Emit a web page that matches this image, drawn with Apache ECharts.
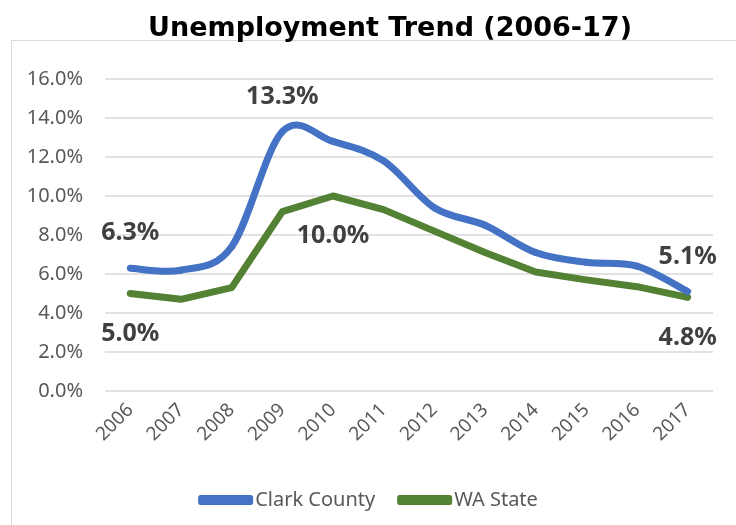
<!DOCTYPE html>
<html>
<head>
<meta charset="utf-8">
<script src="https://cdn.jsdelivr.net/npm/echarts@6/dist/echarts.min.js"></script>
<style>
  html, body { margin: 0; padding: 0; background: #ffffff; }
  #main { width: 736px; height: 525px; }
</style>
</head>
<body>
<div id="main"></div>
<script>
// data
const years = ['2006', '2007', '2008', '2009', '2010', '2011', '2012', '2013', '2014', '2015', '2016', '2017']
const clarkCounty = [6.3, 6.2, 7.4, 13.3, 12.8, 11.8, 9.4, 8.5, 7.1, 6.6, 6.4, 5.1]
const waState = [5.0, 4.7, 5.3, 9.2, 10.0, 9.3, 8.2, 7.1, 6.1, 5.7, 5.35, 4.8]
const yTicks = [0, 2, 4, 6, 8, 10, 12, 14, 16]

// which points get a data label
const clarkLabelIdx = [0, 3, 11]
const waLabelIdx = [0, 4, 11]

const BLUE = '#4472c4'
const GREEN = '#548235'
const FONT = 'Noto Sans'

const labelStyle = {
  show: true,
  fontFamily: FONT,
  fontWeight: 'bold',
  fontSize: 25,
  color: '#404040',
  formatter: (p) => p.value.toFixed(1) + '%'
}

const withLabels = (values, idx, position, distance) =>
  values.map((v, i) =>
    idx.includes(i)
      ? { value: v, label: Object.assign({}, labelStyle, { position: position, distance: distance }) }
      : v
  )

// spreadsheet-style smoothed segment (catmull-rom as bezier), one per data item
const renderSmooth = (values, color) => (params, api) => {
  const i = params.dataIndex
  if (i >= values.length - 1) return null
  const p = (k) => {
    const kk = Math.max(0, Math.min(values.length - 1, k))
    return api.coord([kk, values[kk]])
  }
  const p0 = p(i - 1), p1 = p(i), p2 = p(i + 1), p3 = p(i + 2)
  const t = 1 / 6
  return {
    type: 'bezierCurve',
    shape: {
      x1: p1[0], y1: p1[1],
      x2: p2[0], y2: p2[1],
      cpx1: p1[0] + (p2[0] - p0[0]) * t,
      cpy1: p1[1] + (p2[1] - p0[1]) * t,
      cpx2: p2[0] - (p3[0] - p1[0]) * t,
      cpy2: p2[1] - (p3[1] - p1[1]) * t
    },
    style: { stroke: color, lineWidth: 7, fill: null, lineCap: 'round', lineJoin: 'round' }
  }
}

const chart = echarts.init(document.getElementById('main'))

const option = {
  animation: false,
  backgroundColor: '#ffffff',
  title: {
    text: 'Unemployment Trend (2006-17)',
    left: 385,
    textAlign: 'center',
    top: 10,
    textStyle: {
      fontFamily: 'DejaVu Sans',
      fontWeight: 'bold',
      fontSize: 27,
      color: '#000000'
    }
  },
  graphic: [
    {
      type: 'rect',
      shape: { x: 11.5, y: 40.5, width: 740, height: 500 },
      style: { fill: 'none', stroke: '#d9d9d9', lineWidth: 1 },
      silent: true,
      z: -1
    }
  ],
  grid: { left: 105, right: 23, top: 79, bottom: 134 },
  legend: {
    top: 485,
    left: 'center',
    icon: 'roundRect',
    itemWidth: 55,
    itemHeight: 10,
    itemGap: 22,
    textStyle: { fontFamily: FONT, fontSize: 20, color: '#595959', padding: [0, 0, 0, -3] },
    data: ['Clark County', 'WA State']
  },
  xAxis: {
    type: 'category',
    data: years,
    boundaryGap: true,
    axisLine: { show: false },
    axisTick: { show: false },
    axisLabel: {
      rotate: 45,
      margin: 16,
      fontFamily: FONT,
      fontSize: 19,
      color: '#595959'
    }
  },
  yAxis: {
    type: 'value',
    min: yTicks[0],
    max: yTicks[yTicks.length - 1],
    interval: 2,
    axisLine: { show: false },
    axisTick: { show: false },
    axisLabel: {
      margin: 22,
      fontFamily: FONT,
      fontSize: 20,
      color: '#595959',
      formatter: (v) => v.toFixed(1) + '%'
    },
    splitLine: { lineStyle: { color: '#d9d9d9', width: 1.5 } }
  },
  series: [
    {
      name: 'Clark County',
      type: 'custom',
      renderItem: renderSmooth(clarkCounty, BLUE),
      itemStyle: { color: BLUE },
      data: clarkCounty.map((v, i) => [i, v]),
      encode: { x: 0, y: 1 },
      z: 3
    },
    {
      // carries the data labels for the smoothed line
      name: 'Clark County',
      type: 'line',
      symbol: 'circle',
      symbolSize: 1,
      itemStyle: { color: BLUE },
      lineStyle: { width: 0, opacity: 0 },
      data: withLabels(clarkCounty, clarkLabelIdx, 'top', 22),
      z: 4
    },
    {
      name: 'WA State',
      type: 'line',
      symbol: 'circle',
      symbolSize: 1,
      itemStyle: { color: GREEN },
      lineStyle: { color: GREEN, width: 7, cap: 'round', join: 'round' },
      data: withLabels(waState, waLabelIdx, 'bottom', 27),
      z: 2
    }
  ]
}

option && chart.setOption(option)
</script>
</body>
</html>
